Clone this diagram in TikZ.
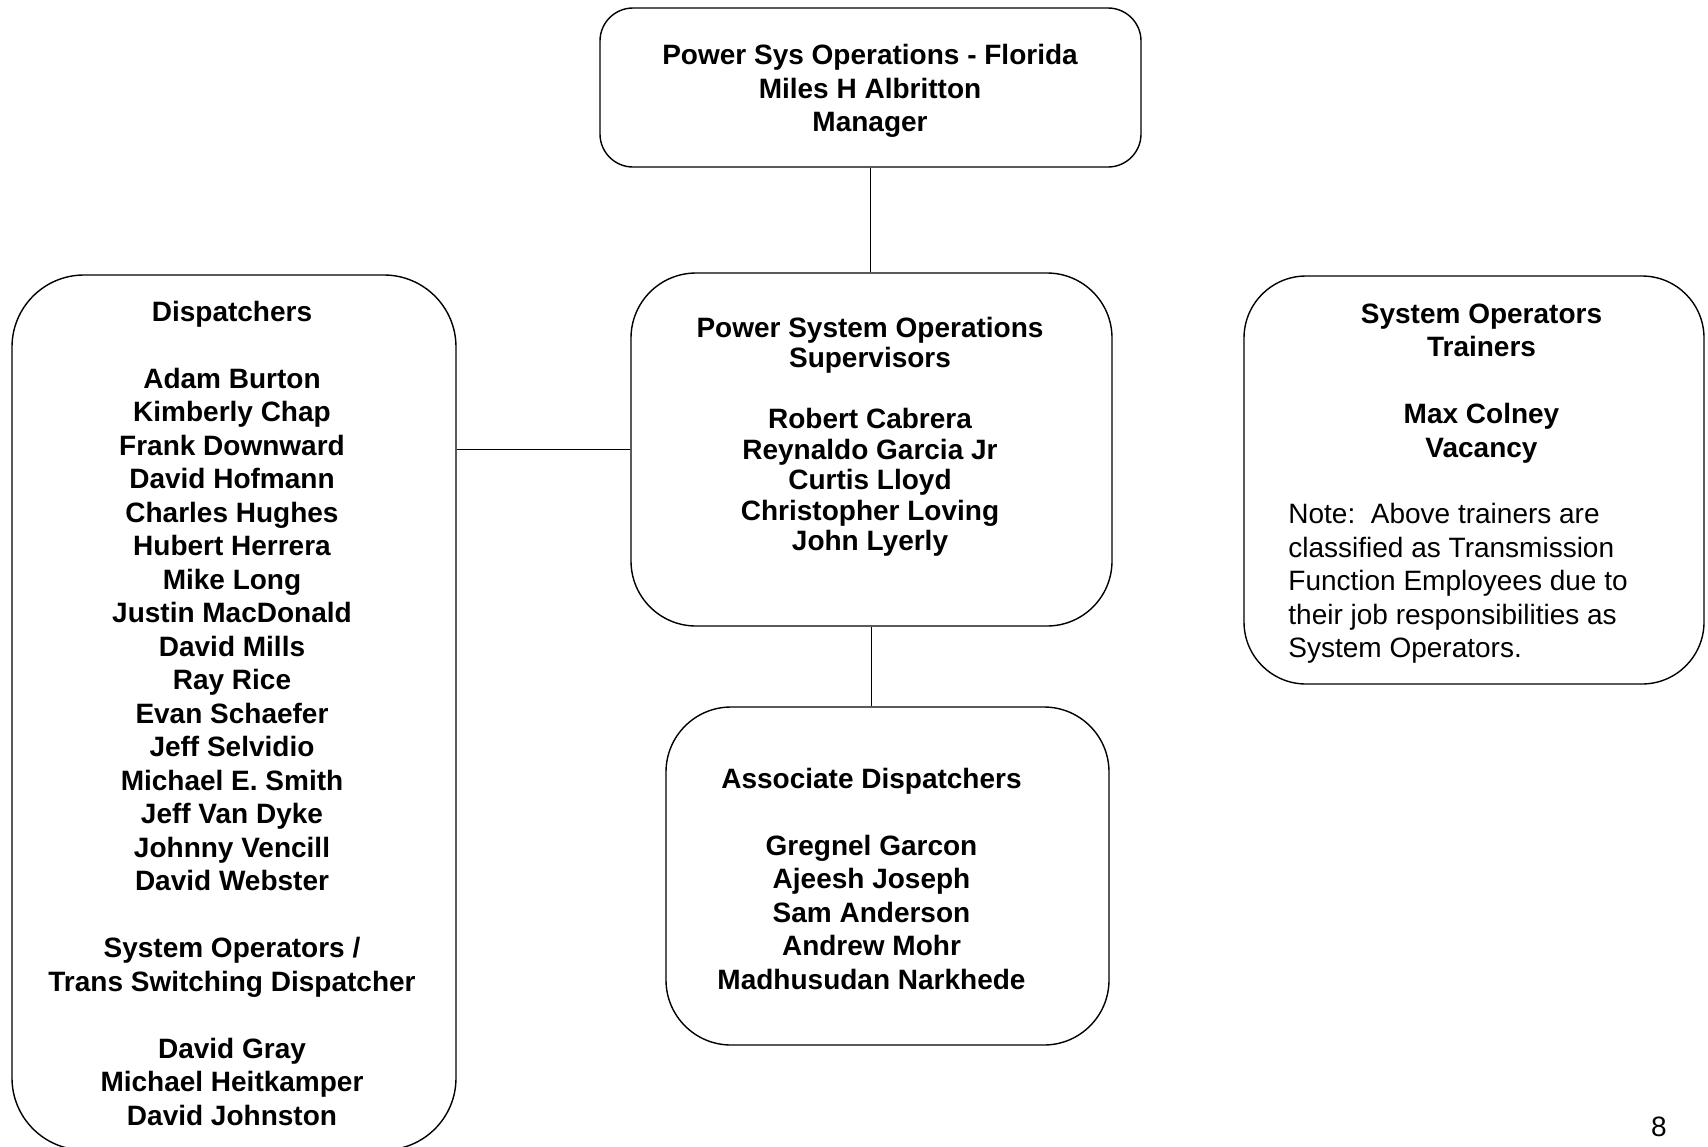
\documentclass[tikz,border=0pt]{standalone}
\usepackage{fontspec}
\setmainfont{Liberation Sans}
\begin{document}
\begin{tikzpicture}[x=0.5pt,y=-0.5pt,
  box/.style={draw=black, line width=0.7pt, rectangle, inner sep=0pt},
  bold/.style={font=\bfseries\fontsize{14}{16.75}\selectfont, align=center, inner sep=0pt, anchor=north},
  boldsup/.style={font=\bfseries\fontsize{14}{15.25}\selectfont, align=center, inner sep=0pt, anchor=north},
  plain/.style={font=\fontsize{14}{16.75}\selectfont, align=left, inner sep=0pt, anchor=north west},
  link/.style={draw=black, line width=0.7pt}]
\path[use as bounding box, clip] (0,0) rectangle (1708,1146);
% boxes
\node[box, rounded corners=16.5pt, minimum width=270.5pt, minimum height=79.5pt] (top) at (870.5,87.5) {};
\node[box, rounded corners=32.5pt, minimum width=240.5pt, minimum height=176.5pt] (sup) at (871.5,449.5) {};
\node[box, rounded corners=36pt, minimum width=222pt, minimum height=437.5pt] (disp) at (234,712.5) {};
\node[box, rounded corners=31pt, minimum width=230pt, minimum height=204pt] (train) at (1474,480) {};
\node[box, rounded corners=32.5pt, minimum width=221.5pt, minimum height=169pt] (assoc) at (887.5,876) {};
% texts
\node[bold] (toptxt) at (870,44) {Power Sys Operations - Florida\\Miles H Albritton\\Manager};
\node[boldsup] (suptxt) at (870,316.5) {Power System Operations\\Supervisors\\[15.25pt]Robert Cabrera\\Reynaldo Garcia Jr\\Curtis Lloyd\\Christopher Loving\\John Lyerly};
\node[bold] (disptxt) at (232,300.5) {Dispatchers\\[16.75pt]Adam Burton\\Kimberly Chap\\Frank Downward\\David Hofmann\\Charles Hughes\\Hubert Herrera\\Mike Long\\Justin MacDonald\\David Mills\\Ray Rice\\Evan Schaefer\\Jeff Selvidio\\Michael E. Smith\\Jeff Van Dyke\\Johnny Vencill\\David Webster\\[16.75pt]System Operators /\\Trans Switching Dispatcher\\[16.75pt]David Gray\\Michael Heitkamper\\David Johnston};
\node[bold] (traintxt) at (1481.5,303.5) {System Operators\\Trainers\\[16.75pt]Max Colney\\Vacancy};
\node[plain] (note) at (1288,503) {Note:\ \ Above trainers are\\classified as Transmission\\Function Employees due to\\their job responsibilities as\\System Operators.};
\node[bold] (assoctxt) at (871.5,767.5) {Associate Dispatchers\\[16.75pt]Gregnel Garcon\\Ajeesh Joseph\\Sam Anderson\\Andrew Mohr\\Madhusudan Narkhede};
\node[font=\fontsize{14}{16.75}\selectfont, inner sep=0pt, anchor=base] (page) at (1659,1136) {8};
% connectors
\draw[link] (top.south) -- (top.south |- sup.north);
\draw[link] (sup.west) -- (sup.west -| disp.east);
\draw[link] (sup.south) -- (sup.south |- assoc.north);
\end{tikzpicture}
\end{document}
